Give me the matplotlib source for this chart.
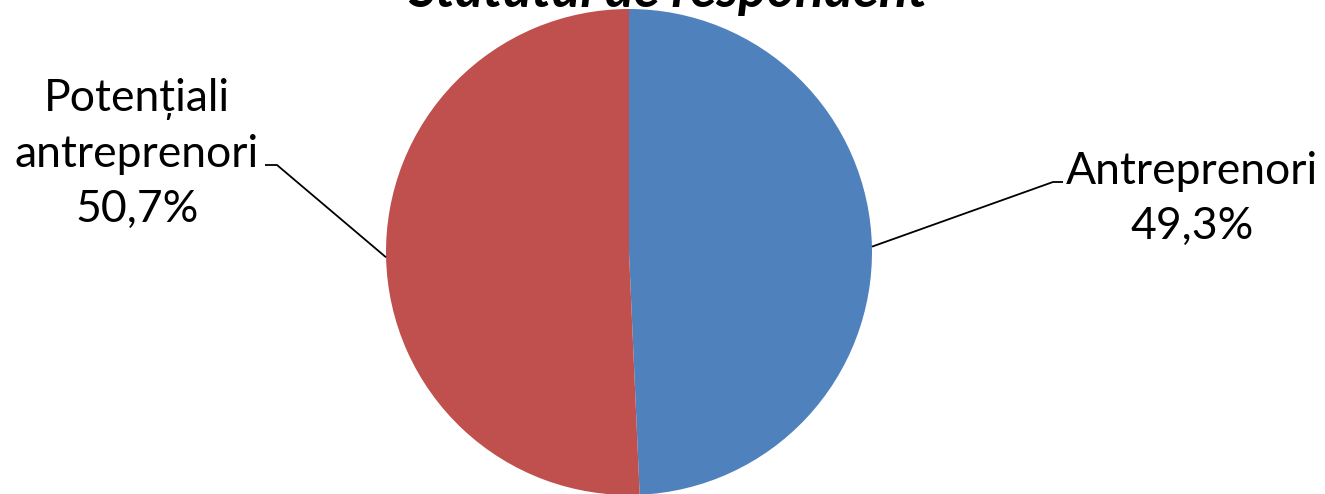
import numpy as np
import matplotlib.pyplot as plt

# data
labels = ['Antreprenori', 'Potențiali\nantreprenori']
values = [49.3, 50.7]
colors = ['#4F81BD', '#C0504D']
title = 'Statutul de respondent'

plt.rcParams['font.family'] = ['Lato', 'DejaVu Sans']

W, H = 1325, 494
fig = plt.figure(figsize=(W / 100, H / 100), dpi=100, facecolor='white')
ax = fig.add_axes([0, 0, 1, 1])

cx, cy, r = 629, H - 252, 243
wedges, _ = ax.pie(values, colors=colors, startangle=90, counterclock=False,
                   center=(cx, cy), radius=r, wedgeprops=dict(linewidth=0))
ax.set_xlim(0, W)
ax.set_ylim(0, H)
ax.set_aspect('equal')
ax.axis('off')

# label layout: (text centre x, text centre y, elbow x, elbow y, end x)
layout = [
    (1192, H - 199, 1053, H - 182, 1063),
    (137, H - 154, 277, H - 165, 265),
]

for w, lab, v, (tx, ty, ex, ey, hx) in zip(wedges, labels, values, layout):
    mid = np.deg2rad((w.theta1 + w.theta2) / 2)
    sx, sy = cx + r * np.cos(mid), cy + r * np.sin(mid)
    ax.plot([sx, ex, hx], [sy, ey, ey], color='black', lw=1.3, solid_capstyle='butt')
    pct = f'{v:.1f}'.replace('.', ',') + '%'
    ax.text(tx, ty, lab + '\n' + pct, ha='center', va='center',
            fontsize=32, linespacing=1.42, color='black')

ax.text(668, H - 7, title, ha='center', va='baseline', fontsize=38.5,
        fontweight='bold', fontstyle='italic', color='black')

fig.savefig('out.png', dpi=100)
